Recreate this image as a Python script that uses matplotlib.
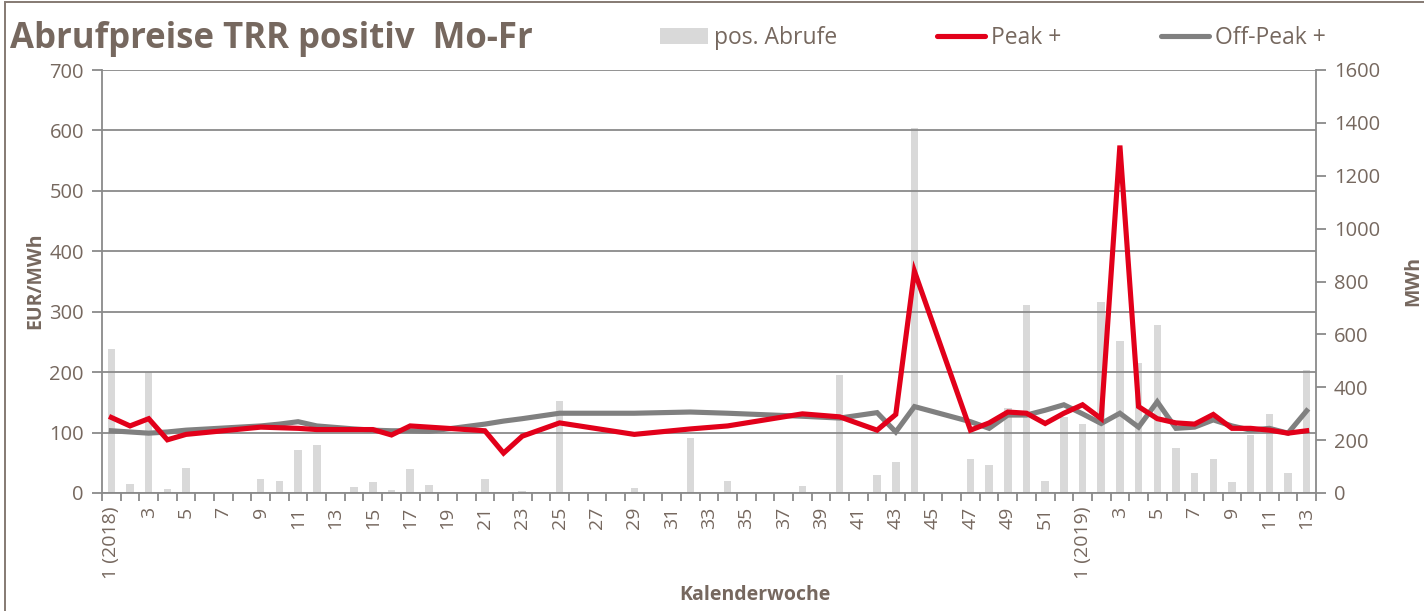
import numpy as np
import matplotlib
matplotlib.use("Agg")
import matplotlib.pyplot as plt
from matplotlib.patches import Rectangle, Patch
from matplotlib.lines import Line2D
from matplotlib.ticker import FixedLocator, NullFormatter

nan = np.nan

# ---- data -------------------------------------------------------------
week_labels = [f"{w} (2018)" if w == 1 else str(w) for w in range(1, 53)] + \
              [f"{w} (2019)" if w == 1 else str(w) for w in range(1, 14)]

abrufe_mwh = [544, 34, 457, 15, 95, 0, 0, 0, 53, 45,
              161, 181, 0, 24, 42, 11, 91, 31, 0, 0,
              53, 0, 7, 0, 349, 0, 0, 0, 19, 0,
              0, 209, 0, 45, 0, 0, 0, 26, 0, 446,
              0, 68, 118, 1380, 0, 0, 129, 106, 320, 711,
              47, 288, 261, 723, 576, 490, 635, 171, 75, 130,
              43, 220, 299, 75, 465]

peak = [125, 111, 123, 88, 97, nan, nan, nan, 109, 108,
        107, 105, nan, 105, 105, 96, 111, 109, nan, nan,
        103, 66, 94, nan, 116, nan, nan, nan, 97, nan,
        nan, 106, nan, 111, nan, nan, nan, 131, nan, 126,
        nan, 104, 130, 367, nan, nan, 104, 116, 134, 132,
        115, 132, 146, 123, 575, 143, 123, 116, 114, 130,
        107, 107, 104, 99, 103]

offpeak = [103, 101, 99, 101, 104, nan, nan, nan, 111, 114,
           118, 111, nan, 106, 104, 103, 103, 102, nan, nan,
           114, 119, 123, nan, 132, nan, nan, nan, 132, nan,
           nan, 134, nan, 132, nan, nan, nan, 127, nan, 124,
           nan, 133, 101, 143, nan, nan, 118, 107, 129, 129,
           137, 146, 131, 115, 132, 109, 151, 107, 109, 121,
           111, 104, 107, 99, 136]

# ---- styling ----------------------------------------------------------
TXT = "#76685f"
GRID = "#8a8a8a"
RED = "#e2001a"
GREY = "#808080"
BAR = "#d9d9d9"
plt.rcParams["font.family"] = ["Open Sans", "DejaVu Sans"]

W, H = 1424, 611
fig = plt.figure(figsize=(W / 100, H / 100), dpi=100)
ax = fig.add_axes([102 / W, 1 - 493 / H, (1316 - 102) / W, (493 - 70) / H])
ax2 = ax.twinx()

x = np.arange(len(week_labels))
ax2.bar(x, abrufe_mwh, width=0.40, color=BAR, zorder=1)
ax2.set_ylim(0, 1600)
ax2.set_yticks(np.arange(0, 1601, 200))

# lines drawn in front of the bars
ax.set_zorder(ax2.get_zorder() + 1)
ax.patch.set_visible(False)

pk = np.array(peak, dtype=float)
op = np.array(offpeak, dtype=float)
mp = ~np.isnan(pk)
mo = ~np.isnan(op)
LW = 3.7
ax.plot(x[mp], pk[mp], color=RED, lw=LW, solid_joinstyle="miter", zorder=4)
ax.plot(x[mo], op[mo], color=GREY, lw=LW, solid_joinstyle="miter", zorder=3)

ax.set_ylim(0, 700)
ax.set_xlim(-0.5, len(x) - 0.5)
ax.set_yticks(np.arange(0, 701, 100))
ax.yaxis.grid(True, color=GRID, lw=1.3)
ax.set_axisbelow(True)

# x ticks: labels on every other category, marks at category boundaries
ax.set_xticks(x[::2])
ax.set_xticklabels([week_labels[i] for i in x[::2]], rotation=90, fontsize=14, color=TXT)
ax.tick_params(axis="x", which="major", length=0, pad=10)
ax.xaxis.set_minor_locator(FixedLocator(np.arange(-0.5, len(x), 1.0)))
ax.xaxis.set_minor_formatter(NullFormatter())
ax.tick_params(axis="x", which="minor", length=6, width=1.3, color=GRID, direction="out")

ax.tick_params(axis="y", length=7, width=1.3, color=GRID, labelsize=14.5, labelcolor=TXT, pad=6)
ax2.tick_params(axis="y", length=7, width=1.3, color=GRID, labelsize=14.5, labelcolor=TXT, pad=6)

for a in (ax, ax2):
    for s in a.spines.values():
        s.set_visible(False)
for s in (ax.spines["left"], ax.spines["bottom"], ax2.spines["right"]):
    s.set_visible(True)
    s.set_color(GRID)
    s.set_linewidth(1.3)

# axis titles
fig.text(35 / W, 1 - 281 / H, "EUR/MWh", rotation=90, ha="center", va="center",
         fontsize=14, fontweight="bold", color=TXT)
fig.text(1413 / W, 1 - 281 / H, "MWh", rotation=90, ha="center", va="center",
         fontsize=14, fontweight="bold", color=TXT)
fig.text(755 / W, 1 - 595 / H, "Kalenderwoche", ha="center", va="center",
         fontsize=14, fontweight="bold", color=TXT)

# title
fig.text(10 / W, 1 - 48 / H, "Abrufpreise TRR positiv  Mo-Fr", ha="left", va="baseline",
         fontsize=25, fontweight="bold", color=TXT)

# legend
handles = [Patch(facecolor=BAR, edgecolor="none"),
           Line2D([], [], color=RED, lw=LW, solid_capstyle="round"),
           Line2D([], [], color=GREY, lw=LW, solid_capstyle="round")]
leg = fig.legend(handles, ["pos. Abrufe", "Peak +", "Off-Peak +"], ncol=3,
                 loc="center left", bbox_to_anchor=(660 / W, 1 - 38 / H),
                 frameon=False, fontsize=16.5, handlelength=2.1, handleheight=0.65,
                 handletextpad=0.25, columnspacing=4.35, borderpad=0, borderaxespad=0)
for t in leg.get_texts():
    t.set_color(TXT)

# outer chart border
fig.patches.append(Rectangle((5 / W, -0.05), 1.2, 1.05 - 2.5 / H, transform=fig.transFigure,
                             fill=False, edgecolor="#857a73", lw=1.4))

fig.savefig("out.png", dpi=100)
